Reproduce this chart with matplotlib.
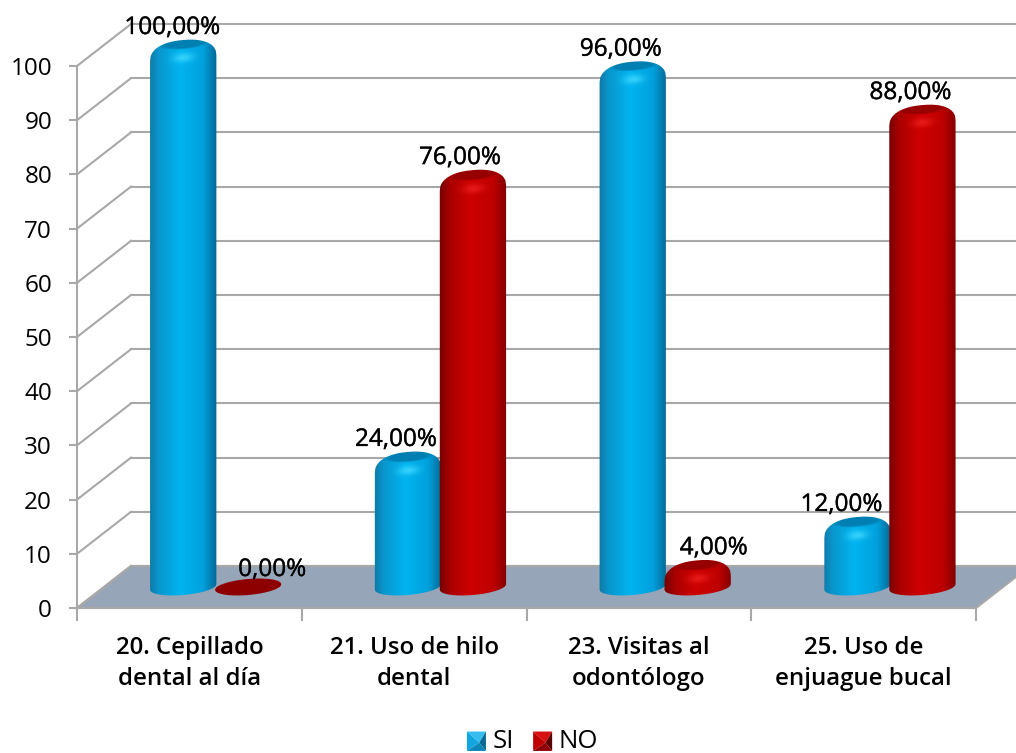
import numpy as np
import matplotlib
matplotlib.use("Agg")
import matplotlib.pyplot as plt
import matplotlib.patheffects as pe
from matplotlib.path import Path
from matplotlib.patches import PathPatch, Polygon, Patch
from matplotlib.legend_handler import HandlerBase

# Survey results (percent of answers)
categories = ["20. Cepillado\ndental al día", "21. Uso de hilo\ndental",
              "23. Visitas al\nodontólogo", "25. Uso de\nenjuague bucal"]
si_values = [100, 24, 96, 12]
no_values = [0, 76, 4, 88]
y_ticks = list(range(0, 101, 10))

# Label nudges in pixels relative to the top of each cylinder
si_label_dx = [-11, -12, -12, -16]
no_label_dx = [24, -13, 16, -12]

W, H = 1016, 753
LEFT, RIGHT, FLOOR, TOP = 77, 976, 608, 66
PX = (RIGHT - LEFT) / 4          # pixels per category
PY = (FLOOR - TOP) / 100         # pixels per percentage point
DEPTH_X, DEPTH_Y = 54 / PX, 42 / PY
BAR_W = 0.295
NO_SHIFT = -0.006                # the red cylinder bites slightly into the blue one
GRID = "#a8a8a8"
TEXT_FONT = ["Open Sans", "DejaVu Sans"]

BLUE = dict(u=[-1, -.75, -.1, .6, 1],
            rgb=[(15, 125, 170), (10, 150, 205), (0, 180, 240), (0, 160, 220), (5, 105, 150)],
            cap=(0, 128, 178), glow=(60, 215, 255))
RED = dict(u=[-1, -.7, -.1, .6, 1],
           rgb=[(120, 0, 0), (170, 0, 0), (205, 0, 0), (190, 0, 0), (130, 0, 0)],
           cap=(150, 0, 0), glow=(235, 30, 30))

fig = plt.figure(figsize=(W / 100, H / 100), dpi=100)
ax = fig.add_axes([LEFT / W, (H - FLOOR) / H, (RIGHT - LEFT) / W, (FLOOR - TOP) / H])
ax.set_facecolor("none")


def cylinder(left, value, pal, zorder):
    """Shaded upright cylinder standing mid-way in the depth of the floor."""
    cx = left + BAR_W / 2 + DEPTH_X / 2
    y0 = DEPTH_Y / 2
    tilt = 2.8
    u = np.linspace(-1, 1, 121)
    low = y0 + (-8 * np.sqrt(1 - u ** 2) + tilt * u) / PY
    if value == 0:
        up = y0 + (8 * np.sqrt(1 - u ** 2) + tilt * u) / PY
        verts = np.r_[np.c_[cx + u * BAR_W / 2, low], np.c_[cx + u[::-1] * BAR_W / 2, up[::-1]]]
        ax.add_patch(Polygon(verts, closed=True, fc="#8e0000", ec="none", zorder=zorder, clip_on=False))
        return cx, y0
    yc = y0 + value
    p = 2.3
    up = yc + (-13 + 18 * (1 - np.abs(u) ** p) ** (1 / p) + tilt * u) / PY
    verts = np.r_[np.c_[cx + u * BAR_W / 2, low], np.c_[cx + u[::-1] * BAR_W / 2, up[::-1]]]

    # Shading texture: across-the-bar profile, darker end cap, soft highlight
    bar_px = value * PY
    ys = np.arange(-14, bar_px + 14, 1.0)
    xs = np.linspace(-1.03, 1.03, 90)
    U, Y = np.meshgrid(xs, ys)
    V = Y - bar_px - tilt * U
    uc = np.clip(U, -1, 1)
    rgb = np.stack([np.interp(uc, pal["u"], [c[i] for c in pal["rgb"]]) for i in range(3)], axis=-1)
    cap = np.clip((1 - (U / .8) ** 2 - ((V - 1) / 6) ** 2) * 2, 0, 1)[..., None]
    rgb = rgb * (1 - cap) + np.array(pal["cap"]) * cap
    glow = np.exp(-(U / .3) ** 2 - ((V + 13) / 4.5) ** 2)[..., None] * .85
    rgb = rgb * (1 - glow) + np.array(pal["glow"]) * glow
    extent = (cx + xs[0] * BAR_W / 2, cx + xs[-1] * BAR_W / 2,
              y0 + ys[0] / PY, y0 + ys[-1] / PY)
    im = ax.imshow(rgb / 255, origin="lower", extent=extent, aspect="auto",
                   interpolation="bilinear", zorder=zorder)
    im.set_clip_box(fig.bbox)
    im.set_clip_path(PathPatch(Path(np.r_[verts, verts[:1]]), transform=ax.transData))
    return cx, yc


# Floor and back wall of the 3D frame
ax.add_patch(Polygon([(0, 0), (4, 0), (4 + DEPTH_X, DEPTH_Y), (DEPTH_X, DEPTH_Y)], closed=True,
                     fc="#97a5b9", ec=GRID, lw=1.5, clip_on=False, zorder=1))
for v in y_ticks:
    ax.plot([0, DEPTH_X], [v, v + DEPTH_Y], color=GRID, lw=1.5, clip_on=False, zorder=1.5)
    ax.plot([DEPTH_X, 4 + DEPTH_X], [v + DEPTH_Y] * 2, color=GRID, lw=1.5, clip_on=False, zorder=1.5)

# Cylinders and value labels
for i in range(len(categories)):
    for value, left, pal, z, dx in ((si_values[i], i + .5 - BAR_W, BLUE, 3, si_label_dx[i]),
                                    (no_values[i], i + .5 + NO_SHIFT, RED, 4, no_label_dx[i])):
        cx, yc = cylinder(left, value, pal, z)
        ax.annotate(f"{value:.2f}".replace(".", ",") + "%", xy=(cx, yc),
                    xytext=(dx * .72, 17 * .72), textcoords="offset points",
                    ha="center", va="center", fontsize=17.5, color="black",
                    family=TEXT_FONT, annotation_clip=False, zorder=6,
                    path_effects=[pe.withStroke(linewidth=.3, foreground="#222222")])

ax.set_xlim(0, 4)
ax.set_ylim(0, 100)
for side in ("top", "right"):
    ax.spines[side].set_visible(False)
for side in ("left", "bottom"):
    ax.spines[side].set_color(GRID)
    ax.spines[side].set_linewidth(1.5)
    ax.spines[side].set_zorder(2)

ax.set_yticks(y_ticks)
ax.set_yticklabels([str(v) for v in y_ticks], fontsize=17.5, family=TEXT_FONT, fontweight="medium")
ax.tick_params(axis="y", length=6, width=1.5, color=GRID, pad=12, labelcolor="black")
ax.set_xticks(range(5))
ax.set_xticklabels([])
ax.set_xticks(np.arange(len(categories)) + .5, minor=True)
ax.set_xticklabels(categories, minor=True, fontsize=17.3, family=TEXT_FONT,
                   fontweight="semibold", linespacing=1.4)
ax.tick_params(axis="x", which="major", length=9, width=1.5, color=GRID)
ax.tick_params(axis="x", which="minor", length=0, pad=20)


class PyramidSquare(HandlerBase):
    """Legend key drawn as a small bevelled square."""

    def create_artists(self, legend, orig, xd, yd, width, height, fontsize, trans):
        x0, y0 = -xd, -yd - 3
        x1, y1 = x0 + width, y0 + height + 2
        mx, my = (x0 + x1) / 2 + 2, (y0 + y1) / 2 - 1
        tris = [[(x0, y1), (x1, y1), (mx, my)], [(x0, y0), (x0, y1), (mx, my)],
                [(x1, y0), (x1, y1), (mx, my)], [(x0, y0), (x1, y0), (mx, my)]]
        return [Polygon(t, closed=True, fc=c, ec="none", transform=trans)
                for t, c in zip(tris, orig.shades)]


si_key = Patch(label="SI")
si_key.shades = ["#35bdf0", "#12a6e0", "#0a6a96", "#0c86b8"]
no_key = Patch(label="NO")
no_key.shades = ["#d81010", "#c00000", "#5c0000", "#900000"]
fig.legend(handles=[si_key, no_key], handler_map={Patch: PyramidSquare()},
           loc="center", bbox_to_anchor=(532.5 / W, (H - 741) / H), ncol=2, frameon=False,
           prop={"family": TEXT_FONT, "size": 18.5}, handlelength=.74, handleheight=.62,
           handletextpad=.25, columnspacing=.75, borderpad=0, borderaxespad=0)

fig.savefig("out.png", dpi=100, facecolor="white")
